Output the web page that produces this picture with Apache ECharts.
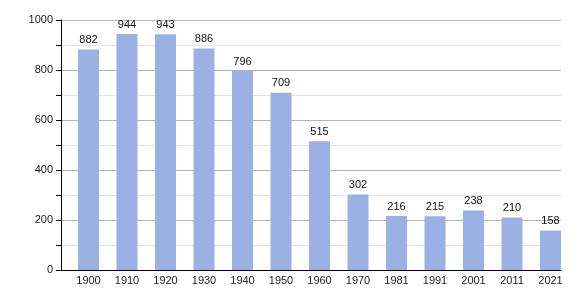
<!DOCTYPE html>
<html><head><meta charset="utf-8">
<script src="https://cdn.jsdelivr.net/npm/echarts@6/dist/echarts.min.js"></script>
<style>html,body{margin:0;padding:0;background:#fff}#c{width:580px;height:300px}</style>
</head><body><div id="c"></div>
<script>
const categories = ['1900','1910','1920','1930','1940','1950','1960','1970','1981','1991','2001','2011','2021'];
const population = [882,944,943,886,796,709,515,302,216,215,238,210,158];
const yTicks = [0,200,400,600,800,1000];

const chart = echarts.init(document.getElementById('c'), null, {renderer:'canvas'});
const font = 'Liberation Sans, Arial, sans-serif';
chart.setOption({
  animation:false,
  grid:[
    {left:61, top:20, width:500, height:250, containLabel:false},
    {left:69.25, top:20, width:500.5, height:250, containLabel:false}
  ],
  xAxis:[
    {gridIndex:0, type:'category', data:categories, axisLine:{lineStyle:{color:'#000',width:1}}, axisTick:{show:false}, axisLabel:{show:false}, z:5},
    {gridIndex:1, type:'category', data:categories, axisLine:{show:false}, axisTick:{show:false},
     axisLabel:{color:'#222', fontSize:11, fontFamily:font, margin:5}}
  ],
  yAxis:[
    {gridIndex:0, type:'value', min:yTicks[0], max:yTicks[yTicks.length-1], interval:200,
     axisLine:{show:true, lineStyle:{color:'#000'}},
     axisTick:{show:true, length:5, lineStyle:{color:'#000'}},
     minorTick:{show:true, splitNumber:2, length:5, lineStyle:{color:'#000'}},
     splitLine:{show:true, lineStyle:{color:'#b3b3b3'}},
     minorSplitLine:{show:true, lineStyle:{color:'#e3e3e3'}},
     axisLabel:{color:'#222', fontSize:11, fontFamily:font, margin:8, formatter:v => String(v)}},
    {gridIndex:1, type:'value', min:0, max:1000, show:false, splitLine:{show:false}}
  ],
  series:[{
    type:'bar', xAxisIndex:1, yAxisIndex:1, data:population, barWidth:21, z:10,
    itemStyle:{color:'#9bb1e3'},
    label:{show:true, position:'top', distance:4, color:'#111', fontSize:11, fontFamily:font}
  }]
});
</script></body></html>
